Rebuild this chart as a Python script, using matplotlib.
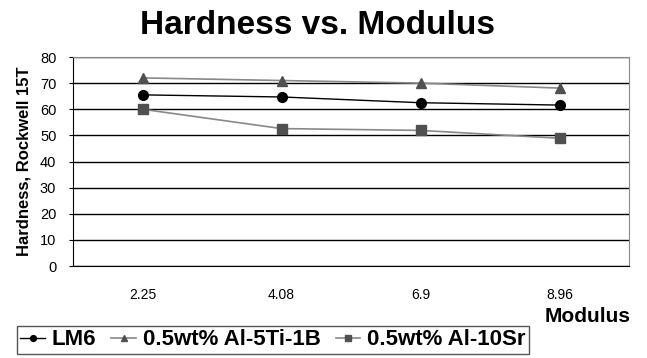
import matplotlib.pyplot as plt

plt.rcParams['font.family'] = ['Liberation Sans', 'DejaVu Sans']

modulus = ['2.25', '4.08', '6.9', '8.96']
lm6 = [65.5, 64.7, 62.5, 61.6]
ti_b = [72, 71, 70, 68.1]
sr = [60, 52.6, 51.9, 48.9]

fig = plt.figure(figsize=(6.47, 3.58), dpi=100)
# plot box in pixels: x 73..629, y 57..266
ax = fig.add_axes([73 / 647, 92 / 358, 556 / 647, 209 / 358])

x = range(len(modulus))
ax.plot(x, lm6, color='black', lw=1, marker='o', ms=7, label='LM6', zorder=3)
ax.plot(x, ti_b, color='#888888', lw=1.2, marker='^', ms=7.5, mfc='#505050', mec='#505050',
        label='0.5wt% Al-5Ti-1B', zorder=3)
ax.plot(x, sr, color='#888888', lw=1.2, marker='s', ms=6.5, mfc='#505050', mec='#505050',
        label='0.5wt% Al-10Sr', zorder=3)

ax.set_xlim(-0.5, 3.5)
ax.set_ylim(0, 80)
ax.set_yticks(range(0, 81, 10))
ax.set_xticks(list(x))
ax.set_xticklabels(modulus)
ax.yaxis.grid(True, color='black', lw=1)
ax.set_axisbelow(True)
for side in ['top', 'right']:
    ax.spines[side].set_color('#888888')
ax.tick_params(axis='x', length=0, pad=16, labelsize=10)
ax.tick_params(axis='y', length=3, direction='out', labelsize=10.5, pad=9)

fig.text(24 / 647, 1 - 161 / 358, 'Hardness, Rockwell 15T', rotation=90,
         ha='center', va='center', fontsize=12, fontweight='bold')
fig.text(318 / 647, 1 - 25 / 358, 'Hardness vs. Modulus', ha='center', va='center',
         fontsize=24, fontweight='bold')
fig.text(631 / 647, 1 - 317 / 358, 'Modulus', ha='right', va='center',
         fontsize=15, fontweight='bold')

leg = fig.legend(loc='upper left', bbox_to_anchor=(17 / 647, 1 - 326 / 358), ncol=3,
                 fancybox=False, edgecolor='#555555', framealpha=1,
                 prop={'weight': 'bold', 'size': 16}, handlelength=1.1,
                 handletextpad=0.3, columnspacing=0.7, borderpad=0.15,
                 borderaxespad=0, markerscale=0.6)
leg.get_frame().set_linewidth(1)

fig.savefig('out.png', dpi=100)
